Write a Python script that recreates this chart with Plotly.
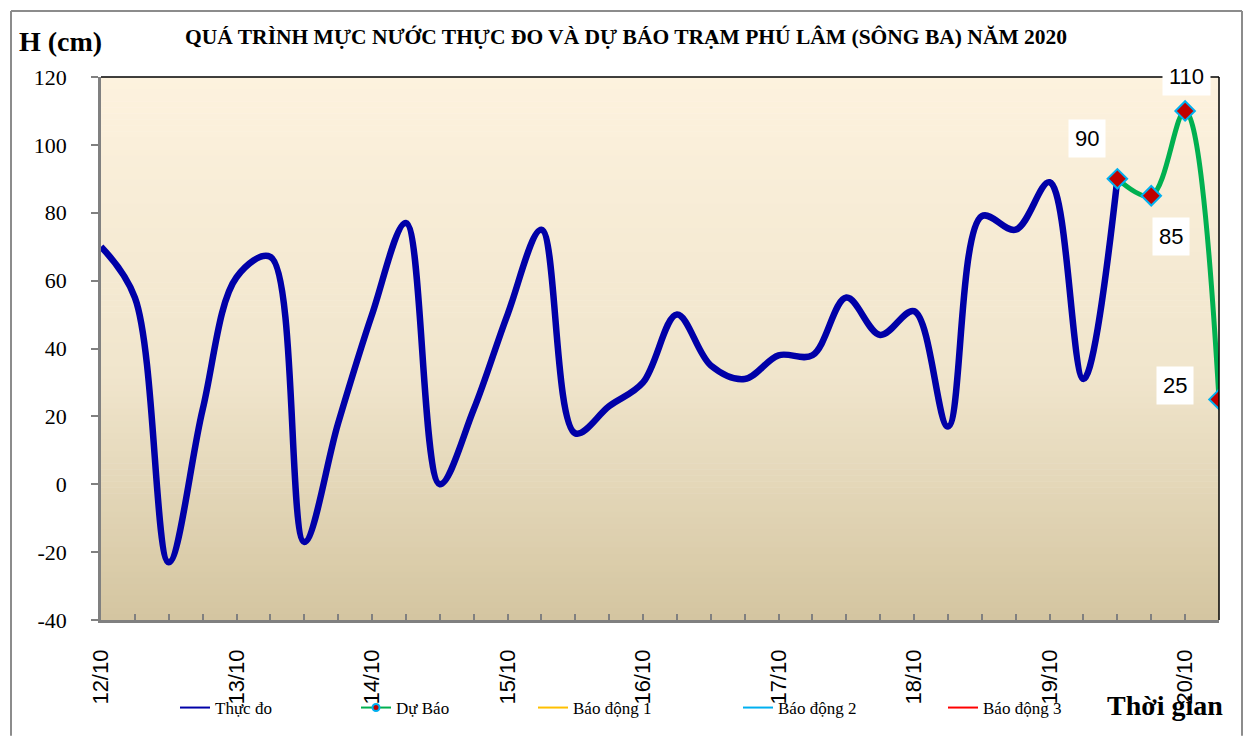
import plotly.graph_objects as go

# ---------------- data ----------------
tick_labels = ["12/10", "13/10", "14/10", "15/10", "16/10", "17/10", "18/10", "19/10", "20/10"]
y_tick_vals = [-40, -20, 0, 20, 40, 60, 80, 100, 120]
y_tick_text = ["-40", "-20", "0", "20", "40", "60", "80", "100", "120"]
obs_values = [70, 55, -23, 22, 61, 67, -17, 18, 50, 77, 0, 22, 50, 75, 15, 23, 30, 50,
              35, 31, 38, 38, 55, 44, 51, 17, 79, 75, 89, 31, 90]
fc_values = [90, 85, 110, 25]
fc_start = 30
series_names = ["Thực đo", "Dự Báo", "Báo động 1", "Báo động 2", "Báo động 3"]

obs_x = list(range(len(obs_values)))
fc_x = list(range(fc_start, fc_start + len(fc_values)))
n_pts = fc_start + len(fc_values)

# ---------------- geometry helpers (page pixels) ----------------
OFF = 8  # browser body margin
W, H = 1253 - 2 * OFF, 745 - 2 * OFF
L, R, T, B = 101, 1219, 77, 621


def px(x):
    return (x - L) / (R - L)


def py(y):
    return (B - y) / (B - T)


fig = go.Figure()

fig.add_trace(go.Scatter(x=obs_x, y=obs_values, mode="lines",
                         line=dict(color="#0000A8", width=6.5, shape="spline", smoothing=1.0),
                         showlegend=False, hoverinfo="y"))
fig.add_trace(go.Scatter(x=fc_x, y=fc_values, mode="lines+markers",
                         line=dict(color="#00B050", width=5, shape="spline", smoothing=1.0),
                         marker=dict(symbol="diamond", size=15, color="#C00000",
                                     line=dict(color="#00B0F0", width=2)),
                         showlegend=False, hoverinfo="y"))

# legend entries (each in its own legend for exact placement)
leg_styles = [
    dict(mode="lines", line=dict(color="#0000A8", width=2)),
    dict(mode="lines+markers", line=dict(color="#00B050", width=2),
         marker=dict(symbol="circle", size=7, color="#C00000", line=dict(color="#00B0F0", width=2))),
    dict(mode="lines", line=dict(color="#FFC000", width=2)),
    dict(mode="lines", line=dict(color="#00B0F0", width=2)),
    dict(mode="lines", line=dict(color="#FF0000", width=2)),
]
leg_x = [175, 356, 533, 738, 943]
legend_layouts = {}
for i, (name, st) in enumerate(zip(series_names, leg_styles)):
    key = "legend" if i == 0 else "legend%d" % (i + 1)
    fig.add_trace(go.Scatter(x=[None], y=[None], name=name, showlegend=True, legend=key, **st))
    legend_layouts[key] = dict(orientation="h", x=px(leg_x[i]), y=py(708), xanchor="left",
                               yanchor="middle", bgcolor="rgba(0,0,0,0)",
                               font=dict(family="Liberation Serif", size=17, color="black"))

# ---------------- background gradient ----------------
shapes = []
top_c = (253, 242, 222)
mid_c = (240, 229, 204)
bot_c = (212, 197, 160)
N = 90
for i in range(N):
    t = (i + 0.5) / N  # 0 at top, 1 at bottom
    if t < 0.55:
        f = t / 0.55
        c = [round(top_c[k] + (mid_c[k] - top_c[k]) * f) for k in range(3)]
    else:
        f = (t - 0.55) / 0.45
        c = [round(mid_c[k] + (bot_c[k] - mid_c[k]) * f) for k in range(3)]
    y1 = 1 - i / N
    y0 = 1 - (i + 1) / N
    shapes.append(dict(type="rect", xref="x domain", yref="y domain", x0=0, x1=1,
                       y0=y0 - 0.001, y1=y1, fillcolor="rgb(%d,%d,%d)" % tuple(c),
                       line=dict(width=0), layer="below"))

# plot border top & right (black)
shapes.append(dict(type="line", xref="x domain", yref="y domain", x0=0, x1=1, y0=1, y1=1,
                   line=dict(color="black", width=1.5)))
shapes.append(dict(type="line", xref="x domain", yref="y domain", x0=1, x1=1, y0=0, y1=1,
                   line=dict(color="black", width=1.5)))
# outer figure frame (left, top, right)
fl, ft, fr, fb = px(11), py(11), px(1242), py(737)
for (a, b, c, d) in [(fl, fb, fl, ft), (fl, ft, fr, ft), (fr, ft, fr, fb)]:
    shapes.append(dict(type="line", xref="paper", yref="paper", x0=a, y0=b, x1=c, y1=d,
                       line=dict(color="#8C8C8C", width=2)))

# ---------------- annotations ----------------
ann = []
ann.append(dict(text="<b>QUÁ TRÌNH MỰC NƯỚC THỰC ĐO VÀ DỰ BÁO TRẠM PHÚ LÂM (SÔNG BA) NĂM 2020</b>",
                xref="paper", yref="paper", x=px(626), y=py(37), xanchor="center", yanchor="middle",
                showarrow=False, font=dict(family="Liberation Serif", size=21.5, color="black")))
ann.append(dict(text="<b>H (cm)</b>", xref="paper", yref="paper", x=px(60), y=py(41),
                xanchor="center", yanchor="middle",
                showarrow=False, font=dict(family="Liberation Serif", size=28, color="black")))
ann.append(dict(text="<b>Thời gian</b>", xref="paper", yref="paper", x=px(1165), y=py(707),
                xanchor="center", yanchor="middle",
                showarrow=False, font=dict(family="Liberation Serif", size=28, color="black")))

label_shifts = [(-30, 40), (20, -41), (1, 34), (-44, 14)]
for xv, yv, (dx, dy) in zip(fc_x, fc_values, label_shifts):
    ann.append(dict(text=str(yv), x=xv, y=yv, xref="x", yref="y", showarrow=False,
                    xshift=dx, yshift=dy, bgcolor="white", borderpad=6,
                    font=dict(family="Liberation Sans", size=22, color="black")))

# ---------------- axes ----------------
tickvals = list(range(n_pts))
ticktext = [tick_labels[i // 4] if i % 4 == 0 and i // 4 < len(tick_labels) else "" for i in tickvals]

fig.update_layout(
    width=W, height=H,
    margin=dict(l=L - OFF, r=W - (R - OFF), t=T - OFF, b=H - (B - OFF)),
    paper_bgcolor="white", plot_bgcolor="rgba(0,0,0,0)",
    shapes=shapes, annotations=ann,
    xaxis=dict(range=[0, n_pts - 1], tickvals=tickvals, ticktext=ticktext, tickangle=-90,
               ticks="inside", ticklen=6, tickcolor="#808080", tickwidth=1.5,
               showline=True, linecolor="#808080", linewidth=2.5, showgrid=False, zeroline=False,
               tickfont=dict(family="Liberation Sans", size=22, color="black"),
               ticklabelstandoff=18),
    yaxis=dict(range=[-40, 120], tickvals=y_tick_vals, ticktext=y_tick_text,
               ticks="outside", ticklen=7, tickcolor="#808080", tickwidth=1.5,
               showline=True, linecolor="#808080", linewidth=2.5, showgrid=False, zeroline=False,
               tickfont=dict(family="Liberation Serif", size=22, color="black"),
               ticklabelstandoff=20),
    **legend_layouts,
)

fig.write_html("out.html")
